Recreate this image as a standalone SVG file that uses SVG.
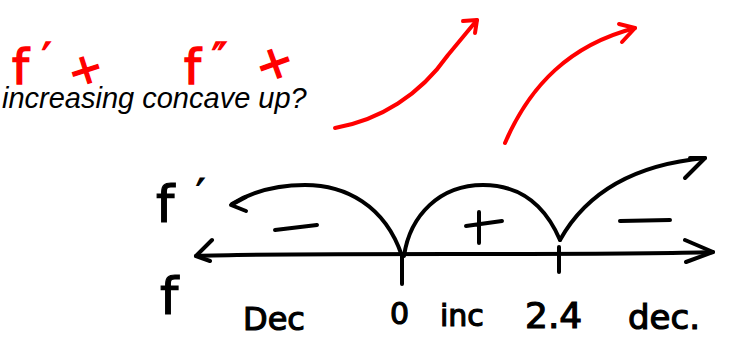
<svg xmlns="http://www.w3.org/2000/svg" width="731" height="338" viewBox="0 0 731 338">
<style>
.ink{fill:none;stroke:#000;stroke-width:4;stroke-linecap:round;stroke-linejoin:round}
.red{fill:none;stroke:#f00;stroke-width:4;stroke-linecap:round;stroke-linejoin:round}
.hb{font-family:"DejaVu Sans",sans-serif;fill:#000;stroke:#000;stroke-width:1.2}
.hr{font-family:"DejaVu Sans",sans-serif;fill:#f00;stroke:#f00;stroke-width:1.5}
.print{font-family:"Liberation Sans",Arial,sans-serif;font-style:italic;font-size:29px;fill:#000}
</style>
<rect width="731" height="338" fill="#fff"/>
<g id="red-labels">
<text class="hr" x="12" y="84" font-size="48">f</text>
<text class="hr" x="42" y="72" font-size="40">′</text>
<text class="hr" x="68" y="84" font-size="42" transform="rotate(-18 84 70)">+</text>
<text class="hr" x="184" y="84" font-size="48">f</text>
<text class="hr" x="212" y="72" font-size="40">″</text>
<text class="hr" x="254" y="78" font-size="46" transform="rotate(-20 275 60)">+</text>
</g>
<text id="question" class="print" x="2" y="108">increasing concave up?</text>
<g id="red-arrows">
<path class="red" d="M335,128 C380,120 420,95 448,55 L477,20"/>
<path class="red" d="M463,21 L477,20 L475,33"/>
<path class="red" d="M505,143 C530,85 570,45 635,28"/>
<path class="red" d="M619,24 L635,28 L622,42"/>
</g>
<g id="connectors">
<path class="ink" d="M196,256 C300,252 600,256 713,252"/>
<path class="ink" d="M212,240 L196,256 L210,261"/>
<path class="ink" d="M685,240 L713,252 L686,262"/>
<path class="ink" d="M402,256 L402,284"/>
<path class="ink" d="M559,247 L559,272"/>
<path class="ink" d="M402,256 C385,205 345,185 305,185 C275,185 250,193 232,204"/>
<path class="ink" d="M246,197 L231,205 L246,211"/>
<path class="ink" d="M404,256 C410,215 440,185 483,185 C520,185 545,205 560,240"/>
<path class="ink" d="M560,240 C585,195 630,165 705,158"/>
<path class="ink" d="M690,158 L705,158 L685,178"/>
</g>
<g id="signs">
<path class="ink" d="M275,230 L317,225"/>
<path class="ink" d="M466,226 L502,221 M479,212 L479,243"/>
<path class="ink" d="M620,221 L670,220"/>
</g>
<g id="axis-labels">
<text class="hb" x="156" y="222" font-size="52">f</text>
<text class="hb" x="196" y="208" font-size="40">′</text>
<text class="hb" x="160" y="314" font-size="52">f</text>
<text class="hb" x="243" y="330" font-size="32">Dec</text>
<text class="hb" x="390" y="324" font-size="30">0</text>
<text class="hb" x="440" y="326" font-size="30">inc</text>
<text class="hb" x="525" y="328" font-size="36">2.4</text>
<text class="hb" x="628" y="329" font-size="34">dec.</text>
</g>
</svg>
